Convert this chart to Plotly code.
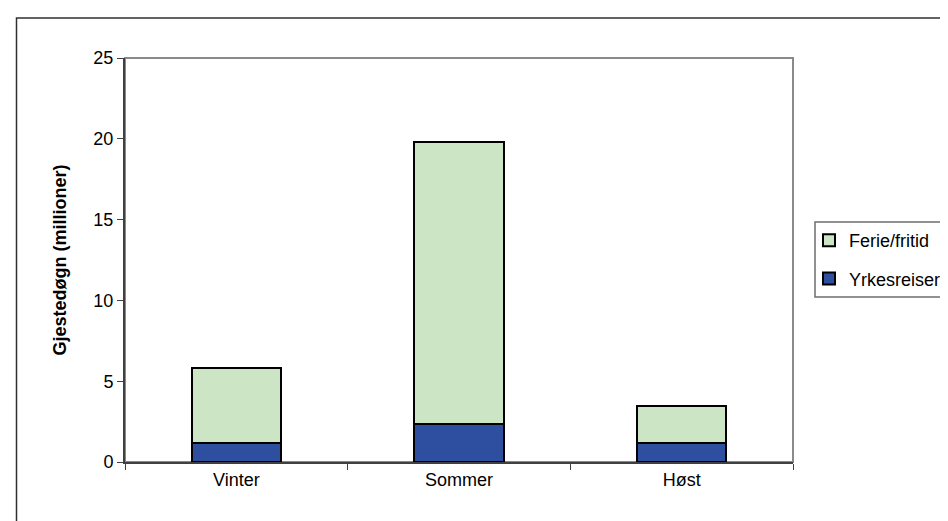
import plotly.graph_objects as go

seasons = ["Vinter", "Sommer", "Høst"]
yrkesreiser = [1.2, 2.35, 1.2]
ferie_fritid = [4.6, 17.45, 2.25]
y_ticks = [0, 5, 10, 15, 20, 25]

W, H = 948, 521
L, R, T, B = 117, 163, 50, 67
pw, ph = W - L - R, H - T - B

def px_x(x):
    return (x - L) / pw

def px_y(y):
    return (H - B - y) / ph

FONT = "Liberation Sans, Arial, sans-serif"
FS = 18

fig = go.Figure()
fig.add_trace(go.Bar(
    x=seasons, y=yrkesreiser, name="Yrkesreiser", legendgroup="y", legendrank=2,
    marker=dict(color="#2E4F9F", line=dict(color="#000000", width=2)),
    width=0.4,
))
fig.add_trace(go.Bar(
    x=seasons, y=ferie_fritid, name="Ferie/fritid", legendgroup="f", legendrank=1,
    marker=dict(color="#CCE5C5", line=dict(color="#000000", width=2)),
    width=0.4,
))

fig.update_layout(
    width=W, height=H,
    margin=dict(l=L, r=R, t=T, b=B, autoexpand=False),
    barmode="stack",
    paper_bgcolor="white", plot_bgcolor="white",
    font=dict(family=FONT, size=FS, color="black"),
    showlegend=True,
    legend=dict(
        traceorder="grouped",
        x=px_x(801), xanchor="left",
        y=px_y(251.5), yanchor="middle",
        borderwidth=0,
        bgcolor="rgba(0,0,0,0)",
        font=dict(family=FONT, size=FS, color="black"),
        itemclick=False,
        tracegroupgap=12,
    ),
    xaxis=dict(
        type="category",
        showline=True, linecolor="#404040", linewidth=2,
        ticks="outside", tickson="boundaries", ticklen=6,
        tickcolor="#404040", tickwidth=1,
        showgrid=False, zeroline=False,
        tickfont=dict(family=FONT, size=FS, color="black"),
    ),
    yaxis=dict(
        range=[0, 25],
        tickvals=y_ticks,
        showline=True, linecolor="#404040", linewidth=2,
        ticks="outside", ticklen=6, tickcolor="#404040", tickwidth=1,
        showgrid=False, zeroline=False,
        tickfont=dict(family=FONT, size=FS, color="black"),
        title=dict(text="<b>Gjestedøgn (millioner)</b>",
                   font=dict(family=FONT, size=FS, color="black"),
                   standoff=22),
    ),
    shapes=[
        # plot area border (gray)
        dict(type="rect", xref="paper", yref="paper", x0=0, y0=0, x1=1, y1=1,
             line=dict(color="#8a8a8a", width=2), layer="below"),
        # outer chart frame (cropped on right/bottom)
        dict(type="rect", xref="paper", yref="paper",
             x0=px_x(8.5), y0=px_y(540), x1=px_x(990), y1=px_y(10),
             line=dict(color="#303030", width=1.5), layer="below"),
        # legend frame (cropped on right)
        dict(type="rect", xref="paper", yref="paper",
             x0=px_x(807), y0=px_y(289), x1=px_x(990), y1=px_y(214),
             line=dict(color="#6e6e6e", width=1.5), layer="below"),
    ],
)

fig.write_html("out.html")
